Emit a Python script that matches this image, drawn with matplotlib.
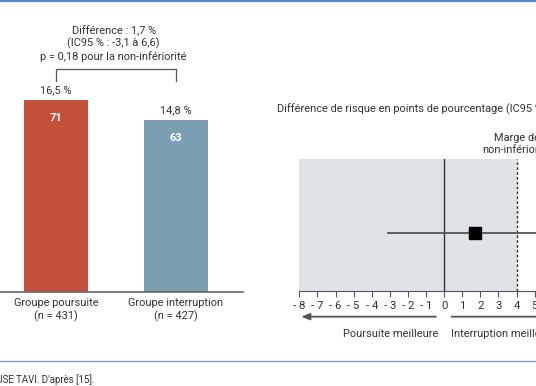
import matplotlib.pyplot as plt
import matplotlib.transforms as mtransforms

plt.rcParams['font.family'] = ['Roboto', 'DejaVu Sans']

# bar panel data
groups = ['Groupe poursuite\n(n = 431)', 'Groupe interruption\n(n = 427)']
pct = [16.5, 14.8]
pct_lbl = ['16,5 %', '14,8 %']
events = ['71', '63']
bar_cols = ['#c5503a', '#7b9fb2']
diff_txt = 'Différence : 1,7 %\n(IC95 % : -3,1 à 6,6)\np = 0,18 pour la non-infériorité'

# forest panel data
diff = 1.7
ci_lo, ci_hi = -3.1, 6.6
margin = 4
ticks = list(range(-8, 9))

W, H = 536, 386
fs = 7.9
txt_col = '#333333'
fig = plt.figure(figsize=(W / 100, H / 100), dpi=100)

def box(l, t, r, b):
    return [l / W, 1 - b / H, (r - l) / W, (b - t) / H]

#%% bars
ax = fig.add_axes(box(0, 10, 243, 291.5))
ax.bar([0, 1], pct, width=0.533, color=bar_cols)
ax.set_xlim(-0.467, 1.558)
ax.set_ylim(0, 24.27)
for s in ['top', 'right', 'left']:
    ax.spines[s].set_visible(False)
ax.spines['bottom'].set_color('#666666')
ax.spines['bottom'].set_linewidth(1.2)
ax.set_yticks([])
ax.set_xticks([0, 1])
ax.set_xticklabels(groups, fontsize=fs, color=txt_col, linespacing=1.2)
ax.tick_params(axis='x', length=0, pad=5)
for i, v in enumerate(pct):
    ax.annotate(pct_lbl[i], (i, v), xytext=(0, 7), textcoords='offset points',
                ha='center', va='center', fontsize=fs, color=txt_col)
    ax.annotate(events[i], (i, v), xytext=(0, -13), textcoords='offset points',
                ha='center', va='center', fontsize=fs, color='white', fontweight='bold')
y0 = max(pct) + 1.65
y1 = y0 + 1.03
ax.plot([0, 0, 1, 1], [y0, y1, y1, y0], color='#555555', lw=0.9, clip_on=False)
ax.text(0.48, y1 + 0.6, diff_txt, ha='center', va='bottom', fontsize=fs,
        color=txt_col, linespacing=1.2)

#%% forest
ax2 = fig.add_axes(box(299.3, 159.3, 299.3 + 16 * 18.1, 291))
ax2.set_xlim(-8, 8)
ax2.set_ylim(0, 1)
ax2.axvspan(-8, margin, color='#dfe3e8', lw=0)
ax2.axvline(0, color='#333333', lw=1)
ax2.axvline(margin, color='#333333', lw=1, ls=(0, (2, 1.5)))
ax2.plot([ci_lo, ci_hi], [0.442, 0.442], color='#555555', lw=1.3)
ax2.plot([diff], [0.442], marker='s', ms=8, color='black')
for s in ['top', 'right', 'left']:
    ax2.spines[s].set_visible(False)
ax2.spines['bottom'].set_color('#555555')
ax2.set_yticks([])
ax2.set_xticks(ticks)
ax2.set_xticklabels([str(t).replace('-', '- ') if t < 0 else str(t) for t in ticks],
                    fontsize=8.2, color=txt_col)
ax2.tick_params(axis='x', length=4, width=0.8, color='#555555', pad=3)

trans = mtransforms.blended_transform_factory(ax2.transData, ax2.transAxes)
ax2.text(margin, 1.03, 'Marge de\nnon-infériorité', transform=trans, ha='center',
         va='bottom', fontsize=fs, color=txt_col, linespacing=1.3)
ax2.annotate('', xy=(-8.05, -0.195), xytext=(-0.3, -0.195), xycoords=trans,
             arrowprops=dict(arrowstyle='-|>,head_length=0.5,head_width=0.2',
                             color='#555555', lw=1.3), annotation_clip=False)
ax2.annotate('', xy=(8, -0.195), xytext=(0.26, -0.195), xycoords=trans,
             arrowprops=dict(arrowstyle='-|>,head_length=0.5,head_width=0.2',
                             color='#555555', lw=1.3), annotation_clip=False)
ax2.text(-0.3, -0.327, 'Poursuite meilleure', transform=trans, ha='right',
         va='center', fontsize=fs, color=txt_col)
ax2.text(0.37, -0.327, 'Interruption meilleure', transform=trans, ha='left',
         va='center', fontsize=fs, color=txt_col)

fig.text(277 / W, 1 - 109 / H, 'Différence de risque en points de pourcentage (IC95 %)',
         ha='left', va='center', fontsize=fs, color=txt_col)

# frame lines and caption
fig.add_artist(plt.Line2D([0, 1], [1 - 0.8 / H, 1 - 0.8 / H], color='#5b8cc6', lw=1.6))
fig.add_artist(plt.Line2D([0, 1], [1 - 360.5 / H, 1 - 360.5 / H], color='#6fa3d8', lw=0.9))
fig.text(95 / W, 1 - 380 / H, "PAUSE TAVI. D'après [15].", ha='right', va='center',
         fontsize=6.9, color=txt_col)

fig.savefig('out.png', dpi=100)
